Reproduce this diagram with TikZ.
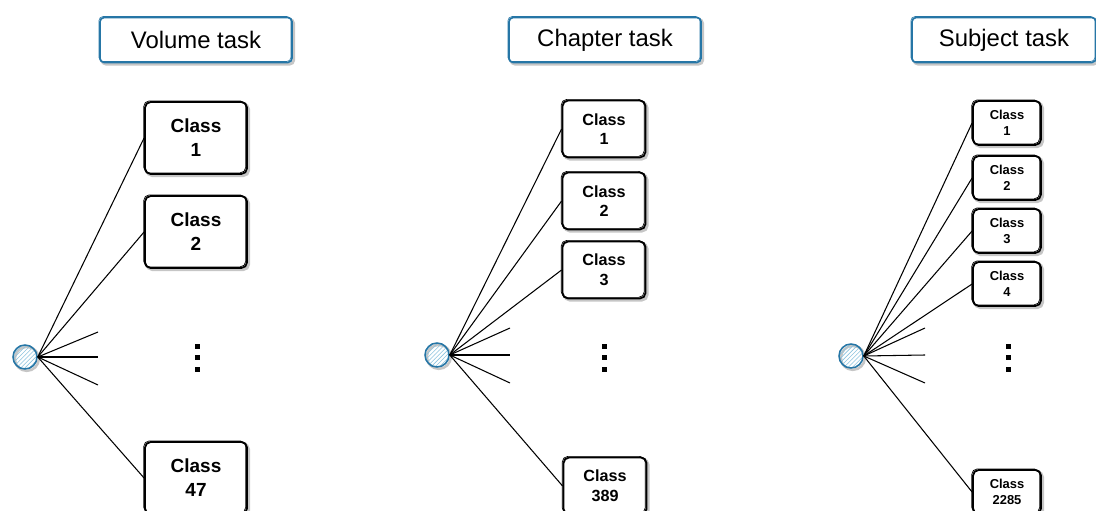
\documentclass[tikz,border=0pt]{standalone}
\usepackage{fontspec}
\setmainfont{Liberation Sans}
\usetikzlibrary{patterns, positioning}

\definecolor{sketchblue}{RGB}{38,118,166}
\definecolor{hatchblue}{RGB}{140,195,222}

\begin{document}
\begin{tikzpicture}[
    x=0.025cm, y=-0.025cm,
    shadowline/.style={preaction={draw=gray!45, line width=1.8pt,
                transform canvas={shift={(1.3pt,-1.3pt)}}}},
    title/.style={rectangle, draw=sketchblue, line width=1.2pt, rounded corners=3pt,
                minimum width=4.8cm, minimum height=1.125cm, fill=white, shadowline,
                font=\fontsize{17}{20}\selectfont,
                postaction={draw=sketchblue, line width=0.4pt, transform canvas={shift={(-0.8pt,0.7pt)}}}},
    cls/.style={rectangle, draw, line width=1.3pt, rounded corners=4pt, fill=white,
                align=center, shadowline,
                postaction={draw, line width=0.5pt, transform canvas={shift={(-0.9pt,0.8pt)}}}},
    big/.style={cls, minimum width=2.55cm, minimum height=1.8cm,
                font=\fontsize{13.5}{17}\selectfont\bfseries},
    mid/.style={cls, minimum width=2.075cm, minimum height=1.425cm,
                font=\fontsize{11.5}{14}\selectfont\bfseries},
    small/.style={cls, minimum width=1.7cm, minimum height=1.1cm,
                font=\fontsize{9.2}{11}\selectfont\bfseries},
    hub/.style={circle, draw=sketchblue, line width=1.1pt, minimum size=0.6cm, inner sep=0pt,
                pattern=north east lines, pattern color=hatchblue, shadowline},
    link/.style={line width=0.75pt},
    dot/.style={fill=black},
]
    \useasboundingbox (0,0) rectangle (1096,511);

    % volume task
    \node[title] (tvol) at (196,40) {Volume task};
    \node[hub] (hvol) at (25,357) {};
    \node[big] (v1)  at (196,138) {Class\\1};
    \node[big] (v2)  at (196,232) {Class\\2};
    \node[big] (v47) at (196,478) {Class\\47};
    \coordinate (va) at (98,332);
    \coordinate (vb) at (98,357);
    \coordinate (vc) at (98,385);
    \foreach \y in {346,357,369} \fill[dot] (194.5,\y-2.5) rectangle ++(5,5);

    \draw[link] (hvol.east) -- (v1.west);
    \draw[link] (hvol.east) -- (v2.west);
    \draw[link] (hvol.east) -- (va);
    \draw[link] (hvol.east) -- (vb);
    \draw[link] (hvol.east) -- (vc);
    \draw[link] (hvol.east) -- (v47.west);

    % chapter task
    \node[title] (tchap) at (605,40) {Chapter task};
    \node[hub] (hchap) at (437,355) {};
    \node[mid] (c1)   at (604,129) {Class\\1};
    \node[mid] (c2)   at (604,201) {Class\\2};
    \node[mid] (c3)   at (604,270) {Class\\3};
    \node[mid] (c389) at (605,486) {Class\\389};
    \coordinate (ca) at (510,328);
    \coordinate (cb) at (510,355);
    \coordinate (cc) at (510,383);
    \foreach \y in {346,357,369} \fill[dot] (601.5,\y-2.5) rectangle ++(5,5);

    \draw[link] (hchap.east) -- (c1.west);
    \draw[link] (hchap.east) -- (c2.west);
    \draw[link] (hchap.east) -- (c3.west);
    \draw[link] (hchap.east) -- (ca);
    \draw[link] (hchap.east) -- (cb);
    \draw[link] (hchap.east) -- (cc);
    \draw[link] (hchap.east) -- (c389.west);

    % subject task
    \node[title, minimum width=4.6cm] (tsubj) at (1004,40) {Subject task};
    \node[hub] (hsubj) at (851,356) {};
    \node[small] (s1)    at (1007,123) {Class\\1};
    \node[small] (s2)    at (1007,178) {Class\\2};
    \node[small] (s3)    at (1007,231) {Class\\3};
    \node[small] (s4)    at (1007,284) {Class\\4};
    \node[small] (s2285) at (1007,492) {Class\\2285};
    \coordinate (sa) at (925,328);
    \coordinate (sb) at (925,355);
    \coordinate (sc) at (925,383);
    \foreach \y in {346,357,369} \fill[dot] (1005.5,\y-2.5) rectangle ++(5,5);

    \draw[link] (hsubj.east) -- (s1.west);
    \draw[link] (hsubj.east) -- (s2.west);
    \draw[link] (hsubj.east) -- (s3.west);
    \draw[link] (hsubj.east) -- (s4.west);
    \draw[link] (hsubj.east) -- (sa);
    \draw[link] (hsubj.east) -- (sb);
    \draw[link] (hsubj.east) -- (sc);
    \draw[link] (hsubj.east) -- (s2285.west);
\end{tikzpicture}
\end{document}
